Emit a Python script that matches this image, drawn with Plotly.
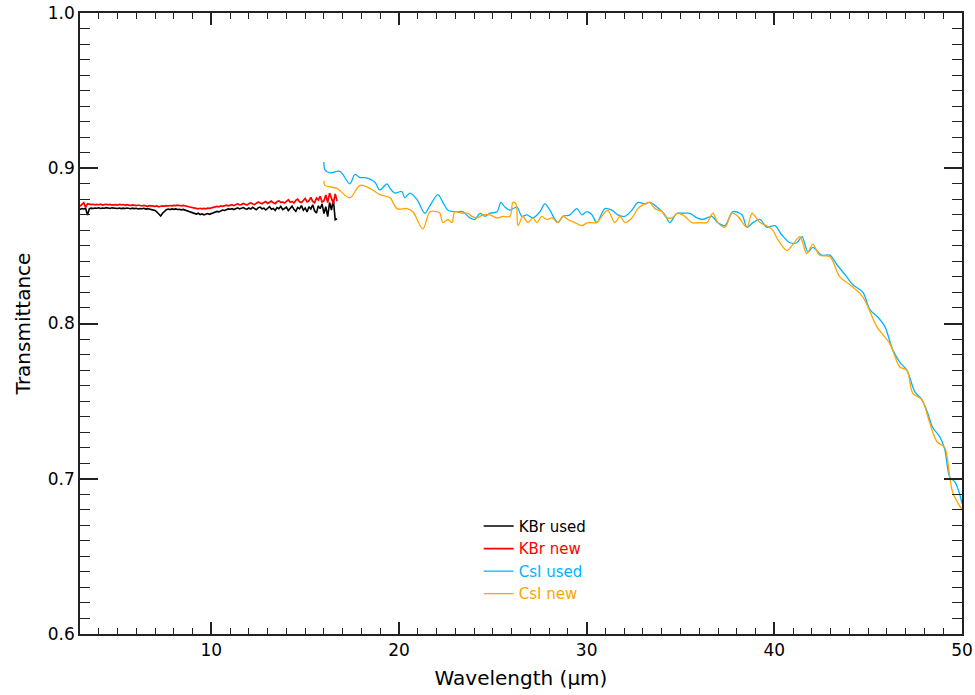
import numpy as np
import plotly.graph_objects as go

# ---------------- data ----------------
# KBr spectra sampled on a 0.1 micron grid from 3.0 to 16.7 micron
kbr_wave = np.round(np.arange(3.0, 16.75, 0.1), 2)

kbr_used = [
    0.8735, 0.8740, 0.8738, 0.8742, 0.8698, 0.8740, 0.8743, 0.8741, 0.8744, 0.8742,
    0.8745, 0.8741, 0.8744, 0.8742, 0.8746, 0.8743, 0.8741, 0.8745, 0.8742, 0.8744,
    0.8741, 0.8744, 0.8740, 0.8743, 0.8741, 0.8744, 0.8742, 0.8739, 0.8743, 0.8740,
    0.8742, 0.8738, 0.8741, 0.8739, 0.8742, 0.8737, 0.8740, 0.8738, 0.8736, 0.8733,
    0.8728, 0.8718, 0.8705, 0.8692, 0.8710, 0.8725, 0.8733, 0.8737, 0.8734, 0.8738,
    0.8735, 0.8738, 0.8734, 0.8736, 0.8732, 0.8735, 0.8730, 0.8727, 0.8722, 0.8718,
    0.8712, 0.8708, 0.8705, 0.8710, 0.8702, 0.8706, 0.8700, 0.8704, 0.8708, 0.8703,
    0.8707, 0.8712, 0.8716, 0.8722, 0.8719, 0.8727, 0.8731, 0.8728, 0.8735, 0.8738,
    0.8736, 0.8740, 0.8734, 0.8742, 0.8745, 0.8738, 0.8741, 0.8747, 0.8739, 0.8736,
    0.8744, 0.8737, 0.8748, 0.8741, 0.8733, 0.8746, 0.8750, 0.8739, 0.8743, 0.8731,
    0.8745, 0.8752, 0.8736, 0.8741, 0.8728, 0.8747, 0.8740, 0.8754, 0.8733, 0.8744,
    0.8749, 0.8727, 0.8741, 0.8756, 0.8735, 0.8722, 0.8748, 0.8739, 0.8759, 0.8730,
    0.8744, 0.8718, 0.8752, 0.8737, 0.8765, 0.8726, 0.8711, 0.8758, 0.8740, 0.8770,
    0.8708, 0.8752, 0.8688, 0.8779, 0.8731, 0.8798, 0.8668, 0.8675,
]

kbr_new = [
    0.8755, 0.8770, 0.8778, 0.8748, 0.8772, 0.8769, 0.8766, 0.8768, 0.8764, 0.8767,
    0.8765, 0.8769, 0.8763, 0.8766, 0.8768, 0.8764, 0.8767, 0.8762, 0.8766, 0.8765,
    0.8763, 0.8767, 0.8764, 0.8766, 0.8761, 0.8765, 0.8763, 0.8760, 0.8764, 0.8762,
    0.8759, 0.8763, 0.8760, 0.8757, 0.8761, 0.8758, 0.8755, 0.8759, 0.8756, 0.8758,
    0.8754, 0.8757, 0.8752, 0.8755, 0.8758, 0.8756, 0.8759, 0.8757, 0.8760, 0.8758,
    0.8761, 0.8759, 0.8762, 0.8760, 0.8758, 0.8761, 0.8757, 0.8755, 0.8752, 0.8749,
    0.8746, 0.8743, 0.8741, 0.8739, 0.8742, 0.8738, 0.8741, 0.8739, 0.8743, 0.8741,
    0.8745, 0.8748, 0.8751, 0.8754, 0.8752, 0.8757, 0.8755, 0.8759, 0.8762, 0.8758,
    0.8762, 0.8765, 0.8759, 0.8768, 0.8771, 0.8764, 0.8766, 0.8773, 0.8769, 0.8763,
    0.8772, 0.8778, 0.8770, 0.8766, 0.8775, 0.8782, 0.8776, 0.8771, 0.8779, 0.8785,
    0.8774, 0.8780, 0.8788, 0.8777, 0.8772, 0.8784, 0.8791, 0.8779, 0.8783, 0.8776,
    0.8789, 0.8797, 0.8781, 0.8786, 0.8776, 0.8793, 0.8801, 0.8784, 0.8779, 0.8795,
    0.8806, 0.8783, 0.8790, 0.8812, 0.8786, 0.8777, 0.8808, 0.8795, 0.8820, 0.8782,
    0.8791, 0.8828, 0.8779, 0.8840, 0.8801, 0.8772, 0.8835, 0.8788,
]

csi_used_wave = [
    16.00, 16.05, 16.32, 16.85, 17.38, 17.65, 17.92, 18.18, 18.45, 18.72,
    18.98, 19.36, 19.52, 19.78, 20.15, 20.31, 20.58, 20.95, 21.38, 21.65,
    22.07, 22.34, 22.61, 23.09, 23.40, 23.78, 24.04, 24.31, 24.58, 24.84,
    25.22, 25.43, 25.64, 25.91, 26.28, 26.55, 26.81, 27.13, 27.51, 27.77,
    28.04, 28.31, 28.47, 28.73, 29.11, 29.48, 29.74, 30.01, 30.28, 30.54,
    30.97, 31.34, 31.66, 32.04, 32.41, 32.73, 33.10, 33.37, 33.74, 34.17,
    34.43, 34.81, 35.13, 35.50, 35.87, 36.19, 36.67, 36.99, 37.36, 37.79,
    38.27, 38.54, 38.86, 39.23, 39.60, 40.03, 40.40, 40.83, 41.20, 41.47,
    41.79, 42.05, 42.53, 42.96, 43.33, 43.86, 44.18, 44.72, 45.09, 45.52,
    45.89, 46.31, 46.69, 47.06, 47.49, 47.86, 48.18, 48.44, 48.82, 49.08,
    49.35, 49.62, 49.88, 50.00,
]
csi_used = [
    0.904, 0.899, 0.897, 0.898, 0.890, 0.896, 0.894, 0.894, 0.893, 0.891,
    0.886, 0.890, 0.887, 0.884, 0.885, 0.881, 0.884, 0.880, 0.871, 0.876,
    0.883, 0.878, 0.873, 0.872, 0.872, 0.868, 0.867, 0.871, 0.869, 0.871,
    0.872, 0.878, 0.875, 0.873, 0.875, 0.869, 0.870, 0.868, 0.872, 0.877,
    0.873, 0.867, 0.865, 0.869, 0.870, 0.874, 0.870, 0.872, 0.870, 0.865,
    0.874, 0.873, 0.870, 0.869, 0.873, 0.878, 0.877, 0.878, 0.875, 0.870,
    0.865, 0.871, 0.871, 0.871, 0.868, 0.867, 0.869, 0.865, 0.863, 0.872,
    0.870, 0.862, 0.865, 0.867, 0.862, 0.863, 0.857, 0.852, 0.852, 0.856,
    0.846, 0.849, 0.844, 0.844, 0.838, 0.830, 0.825, 0.820, 0.809, 0.804,
    0.798, 0.783, 0.775, 0.770, 0.756, 0.751, 0.742, 0.733, 0.727, 0.719,
    0.701, 0.698, 0.690, 0.684,
]

csi_new_wave = [
    16.00, 16.05, 16.69, 17.38, 17.92, 18.45, 18.98, 19.52, 19.89, 20.42,
    20.74, 21.27, 21.65, 22.02, 22.18, 22.34, 22.61, 22.82, 22.98, 23.35,
    23.67, 23.88, 24.15, 24.47, 24.84, 25.22, 25.54, 25.91, 26.07, 26.23,
    26.34, 26.60, 26.87, 27.13, 27.35, 27.61, 27.88, 28.15, 28.47, 28.73,
    29.00, 29.37, 29.74, 30.06, 30.54, 30.81, 31.12, 31.50, 31.77, 32.04,
    32.41, 32.73, 33.10, 33.37, 33.64, 34.01, 34.27, 34.54, 34.86, 35.23,
    35.61, 36.03, 36.40, 36.72, 36.99, 37.36, 37.74, 38.06, 38.54, 38.81,
    39.23, 39.60, 39.92, 40.19, 40.67, 40.99, 41.36, 41.73, 42.05, 42.42,
    42.96, 43.49, 44.02, 44.72, 45.46, 46.15, 46.69, 47.06, 47.38, 47.86,
    48.28, 48.66, 49.08, 49.35, 49.51, 50.00,
]
csi_new = [
    0.892, 0.889, 0.887, 0.881, 0.889, 0.887, 0.883, 0.881, 0.874, 0.874,
    0.872, 0.861, 0.872, 0.872, 0.871, 0.865, 0.867, 0.865, 0.872, 0.871,
    0.871, 0.869, 0.868, 0.870, 0.870, 0.868, 0.869, 0.869, 0.878, 0.877,
    0.863, 0.869, 0.865, 0.868, 0.865, 0.869, 0.867, 0.868, 0.865, 0.869,
    0.867, 0.865, 0.863, 0.865, 0.865, 0.869, 0.873, 0.865, 0.869, 0.865,
    0.868, 0.874, 0.877, 0.878, 0.874, 0.872, 0.868, 0.868, 0.871, 0.869,
    0.865, 0.865, 0.865, 0.871, 0.865, 0.862, 0.871, 0.869, 0.862, 0.871,
    0.865, 0.863, 0.860, 0.854, 0.847, 0.851, 0.856, 0.845, 0.851, 0.844,
    0.843, 0.830, 0.825, 0.817, 0.798, 0.787, 0.772, 0.770, 0.755, 0.751,
    0.736, 0.724, 0.720, 0.701, 0.691, 0.680,
]

series_names = ["KBr used", "KBr new", "CsI used", "CsI new"]
series_colors = ["#000000", "#ff0000", "#00b4ff", "#ffa500"]
series_shapes = ["linear", "linear", "spline", "spline"]
series_widths = [1.6, 1.7, 1.3, 1.3]

x_range = [3.0, 50.0]
y_range = [0.6, 1.0]
x_ticks = [10, 20, 30, 40, 50]
y_ticks = [0.6, 0.7, 0.8, 0.9, 1.0]

# ---------------- figure ----------------
FONT = "DejaVu Sans"
fig = go.Figure()
xs = [kbr_wave, kbr_wave, csi_used_wave, csi_new_wave]
ys = [kbr_used, kbr_new, csi_used, csi_new]
for name, col, shp, w, x, y in zip(series_names, series_colors, series_shapes,
                                   series_widths, xs, ys):
    line = dict(color=col, width=w, shape=shp)
    if shp == "spline":
        line["smoothing"] = 0.9
    fig.add_trace(go.Scatter(
        x=x, y=y, mode="lines",
        name=f"<span style='color:{col}'>{name}</span>",
        line=line,
    ))

axis_common = dict(
    showline=True, linecolor="#222222", linewidth=1.5, mirror="allticks",
    ticks="inside", tickcolor="#222222", tickwidth=1.5,
    showgrid=False, zeroline=False, automargin=False,
    tickfont=dict(family=FONT, size=17, color="#000000"),
)

fig.update_xaxes(
    range=x_range, tickvals=x_ticks, ticklen=12,
    minor=dict(dtick=1, ticks="inside", ticklen=6, tickcolor="#222222", tickwidth=1.2),
    title=dict(text="Wavelength (μm)", font=dict(family=FONT, size=20, color="#000000"), standoff=12),
    **axis_common,
)
fig.update_yaxes(
    range=y_range, tickvals=y_ticks, tickformat=".1f", ticklen=18,
    minor=dict(dtick=0.01, ticks="inside", ticklen=10, tickcolor="#222222", tickwidth=1.2),
    title=dict(text="Transmittance", font=dict(family=FONT, size=20, color="#000000"), standoff=12),
    **axis_common,
)

fig.update_layout(
    width=975, height=695,
    margin=dict(l=80, r=13, t=13, b=61),
    paper_bgcolor="white", plot_bgcolor="white",
    showlegend=True,
    legend=dict(
        x=0.452, y=0.2, xanchor="left", yanchor="top",
        bgcolor="rgba(0,0,0,0)", borderwidth=0,
        font=dict(family=FONT, size=15),
        itemwidth=30, tracegroupgap=0,
    ),
)

fig.write_html("out.html")
